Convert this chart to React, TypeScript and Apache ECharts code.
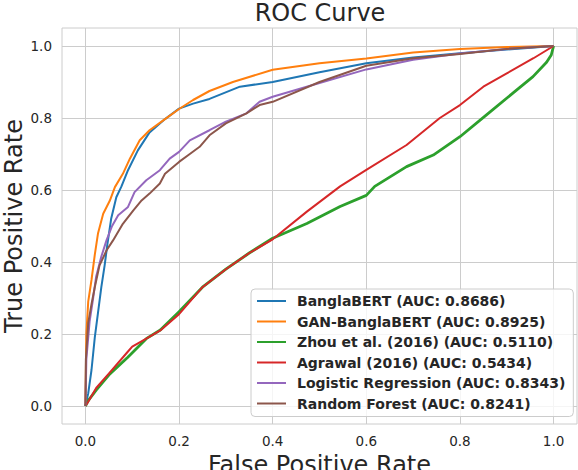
import React, { useEffect, useRef } from 'react';
import * as echarts from 'echarts';

const seriesNames = [
  'BanglaBERT (AUC: 0.8686)',
  'GAN-BanglaBERT (AUC: 0.8925)',
  'Zhou et al. (2016) (AUC: 0.5110)',
  'Agrawal (2016) (AUC: 0.5434)',
  'Logistic Regression (AUC: 0.8343)',
  'Random Forest (AUC: 0.8241)',
];

const tickValues = [0, 0.2, 0.4, 0.6, 0.8, 1.0];

// [fpr, tpr] pairs
const banglaBert = [
  [0, 0], [0.006, 0.035], [0.013, 0.1], [0.02, 0.19], [0.027, 0.26], [0.034, 0.33],
  [0.041, 0.39], [0.047, 0.45], [0.055, 0.52], [0.066, 0.58], [0.077, 0.61],
  [0.091, 0.655], [0.112, 0.71], [0.137, 0.76], [0.17, 0.797], [0.2, 0.826],
  [0.23, 0.84], [0.265, 0.853], [0.33, 0.887], [0.4, 0.9], [0.5, 0.927],
  [0.6, 0.952], [0.7, 0.968], [0.8, 0.98], [0.9, 0.99], [1, 1],
];

const ganBanglaBert = [
  [0, 0], [0.001, 0.1], [0.002, 0.2], [0.006, 0.29], [0.013, 0.35], [0.02, 0.42],
  [0.027, 0.48], [0.038, 0.534], [0.052, 0.57], [0.063, 0.608], [0.08, 0.645],
  [0.095, 0.687], [0.116, 0.738], [0.137, 0.766], [0.17, 0.797], [0.2, 0.825],
  [0.23, 0.85], [0.265, 0.875], [0.315, 0.9], [0.4, 0.934], [0.5, 0.952],
  [0.6, 0.965], [0.7, 0.982], [0.8, 0.992], [0.9, 0.997], [1, 1],
];

const zhou = [
  [0, 0], [0.006, 0.015], [0.023, 0.044], [0.05, 0.086], [0.09, 0.135], [0.13, 0.187],
  [0.16, 0.211], [0.2, 0.262], [0.25, 0.33], [0.3, 0.38], [0.35, 0.425], [0.4, 0.466],
  [0.473, 0.507], [0.544, 0.554], [0.6, 0.585], [0.618, 0.61], [0.686, 0.665],
  [0.743, 0.697], [0.8, 0.748], [0.856, 0.808], [0.913, 0.869], [0.956, 0.915],
  [0.985, 0.955], [0.995, 0.975], [1, 1],
];

const agrawal = [
  [0, 0], [0.006, 0.012], [0.023, 0.05], [0.05, 0.09], [0.09, 0.15], [0.1, 0.165],
  [0.13, 0.187], [0.16, 0.21], [0.2, 0.255], [0.25, 0.33], [0.3, 0.38], [0.35, 0.425],
  [0.4, 0.463], [0.473, 0.54], [0.544, 0.61], [0.6, 0.656], [0.686, 0.725],
  [0.757, 0.8], [0.8, 0.836], [0.85, 0.887], [0.9, 0.924], [0.957, 0.966], [1, 1],
];

const logisticRegression = [
  [0, 0], [0.001, 0.06], [0.002, 0.13], [0.009, 0.235], [0.016, 0.295], [0.023, 0.36],
  [0.034, 0.415], [0.045, 0.46], [0.057, 0.5], [0.07, 0.53], [0.091, 0.553],
  [0.105, 0.594], [0.13, 0.627], [0.159, 0.655], [0.18, 0.687], [0.2, 0.706],
  [0.223, 0.738], [0.265, 0.766], [0.3, 0.79], [0.344, 0.813], [0.372, 0.845],
  [0.4, 0.859], [0.5, 0.897], [0.6, 0.935], [0.7, 0.962], [0.8, 0.979], [0.9, 0.992], [1, 1],
];

const randomForest = [
  [0, 0], [0.001, 0.13], [0.006, 0.23], [0.013, 0.283], [0.02, 0.33], [0.03, 0.39],
  [0.045, 0.432], [0.059, 0.46], [0.08, 0.506], [0.102, 0.543], [0.12, 0.571],
  [0.137, 0.59], [0.159, 0.618], [0.17, 0.645], [0.2, 0.678], [0.223, 0.7],
  [0.244, 0.72], [0.265, 0.752], [0.3, 0.785], [0.344, 0.813], [0.372, 0.836],
  [0.4, 0.845], [0.5, 0.9], [0.6, 0.945], [0.7, 0.966], [0.8, 0.978], [0.9, 0.992], [1, 1],
];

const seriesData = [banglaBert, ganBanglaBert, zhou, agrawal, logisticRegression, randomForest];
const colors = ['#1f77b4', '#ff7f0e', '#2ca02c', '#d62728', '#9467bd', '#8c564b'];
const widths = [2, 2, 2.8, 2, 2, 2];

const FONT = 'DejaVu Sans';
const TEXT = '#262626';
const GRID = '#cccccc';

const App: React.FC = () => {
  const chartRef = useRef<HTMLDivElement>(null);

  useEffect(() => {
    document.body.style.margin = '0';
    if (!chartRef.current) return undefined;
    const chart = echarts.init(chartRef.current, undefined, { renderer: 'svg' });

    const axisCommon = {
      type: 'value',
      min: -0.05,
      max: 1.05,
      nameLocation: 'middle',
      nameTextStyle: { fontFamily: FONT, fontSize: 24, color: TEXT },
      axisLine: { show: false },
      axisTick: { show: false, customValues: tickValues },
      axisLabel: {
        customValues: tickValues,
        margin: 10,
        fontFamily: FONT,
        fontSize: 13.5,
        color: TEXT,
        formatter: (v: number) => v.toFixed(1),
      },
      splitLine: { show: false },
    };

    // grid lines at the tick values, drawn under the curves
    const gridLines = [
      ...tickValues.map((v) => ({ xAxis: v })),
      ...tickValues.map((v) => ({ yAxis: v })),
    ];

    chart.setOption({
      animation: false,
      color: colors,
      title: {
        text: 'ROC Curve',
        left: 320,
        top: 1,
        padding: 0,
        textAlign: 'center',
        textStyle: { fontFamily: FONT, fontSize: 24, fontWeight: 'normal', color: TEXT },
      },
      grid: {
        left: 62,
        right: 1,
        top: 28,
        bottom: 46,
        outerBoundsMode: 'none',
        containLabel: false,
        show: true,
        borderColor: GRID,
        borderWidth: 1,
        backgroundColor: '#ffffff',
      },
      xAxis: { ...axisCommon, name: 'False Positive Rate', nameGap: 27 },
      yAxis: {
        ...axisCommon,
        name: 'True Positive Rate',
        nameGap: 36,
        nameMoveOverlap: false,
      },
      legend: {
        orient: 'vertical',
        left: 251,
        top: 289,
        z: 10,
        itemWidth: 29,
        itemHeight: 14,
        itemGap: 6.5,
        padding: [5, 8, 6, 5],
        backgroundColor: 'rgba(255,255,255,0.8)',
        borderColor: GRID,
        borderWidth: 1,
        borderRadius: 4,
        itemStyle: { opacity: 0 },
        textStyle: {
          fontFamily: FONT,
          fontSize: 14,
          fontWeight: 'bold',
          color: TEXT,
          padding: [0, 0, 0, 6],
        },
        data: seriesNames,
      },
      series: [
        {
          name: 'grid',
          type: 'line',
          data: [],
          z: 1,
          silent: true,
          markLine: {
            z: 1,
            silent: true,
            symbol: 'none',
            label: { show: false },
            lineStyle: { color: GRID, width: 1, type: 'solid' },
            emphasis: { disabled: true },
            data: gridLines,
          },
        },
        ...seriesNames.map((name, i) => ({
          name,
          type: 'line',
          data: seriesData[i],
          symbol: 'none',
          z: 2,
          lineStyle: { color: colors[i], width: widths[i] },
          itemStyle: { color: colors[i] },
        })),
      ],
    });

    return () => {
      chart.dispose();
    };
  }, []);

  return <div ref={chartRef} style={{ width: '578px', height: '470px' }} />;
};

export default App;
